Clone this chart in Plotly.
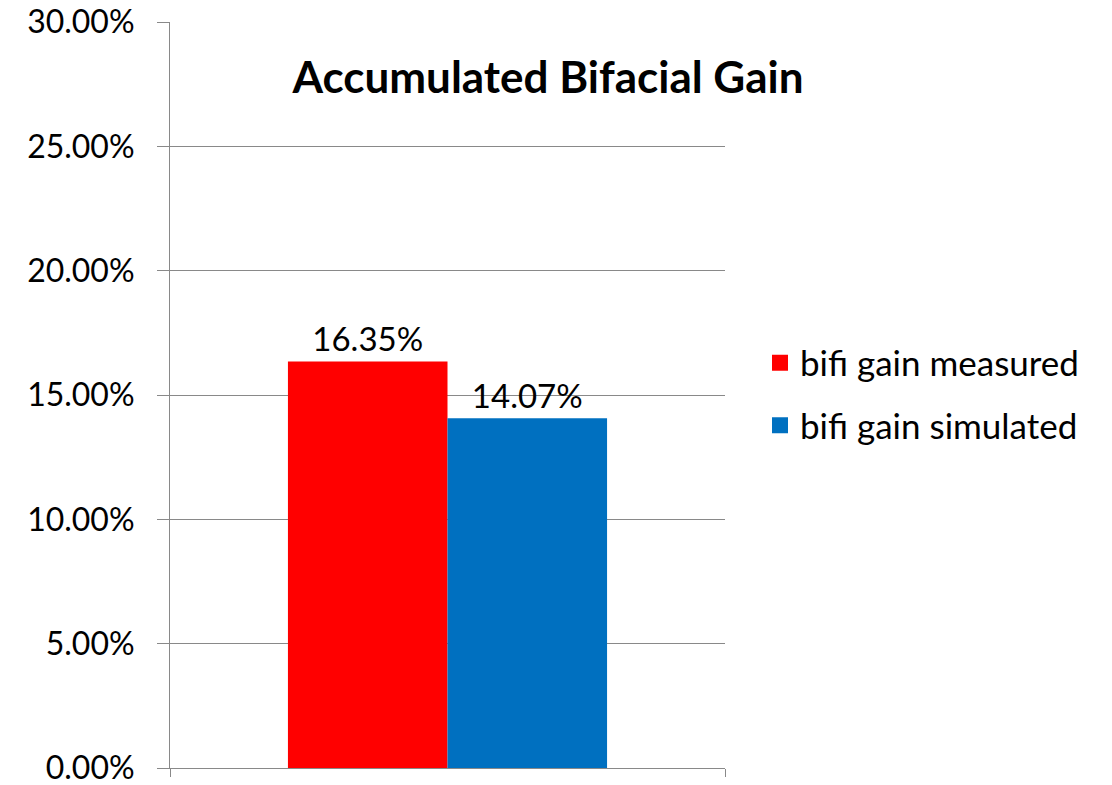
import plotly.graph_objects as go

series_names = ["bifi gain measured", "bifi gain simulated"]
series_values = [0.1635, 0.1407]
series_colors = ["#FF0000", "#0070C0"]
category = [0]

FONT = "Lato"
GRID = "#898989"
W, H = 1104, 777

fig = go.Figure()
for name, val, col in zip(series_names, series_values, series_colors):
    fig.add_trace(go.Bar(
        x=category, y=[val], name=name, marker_color=col, marker_line_width=0,
        text=[f"{val*100:.2f}%"], textposition="outside", cliponaxis=False,
        textfont=dict(family=FONT, size=33, color="#000000"),
        showlegend=False,
    ))
    # legend proxies with bigger square symbols
    fig.add_trace(go.Scatter(
        x=[None], y=[None], mode="markers", name=name, legendgroup=name,
        marker=dict(symbol="square", size=20, color=col),
    ))

fig.update_layout(
    width=W, height=H,
    margin=dict(l=162, r=387, t=14, b=17, autoexpand=False),
    paper_bgcolor="white", plot_bgcolor="white",
    barmode="group", bargap=0.425, bargroupgap=0,
    font=dict(family=FONT, size=33, color="#000000"),
    title=dict(text="<b>Accumulated Bifacial Gain</b>", x=540/W, xanchor="center",
               y=1-70/H, yanchor="middle", font=dict(family=FONT, size=44)),
    legend=dict(x=(760-170)/555, xanchor="left", y=(768-394)/746, yanchor="middle",
                font=dict(family=FONT, size=35), traceorder="grouped",
                tracegroupgap=14, itemwidth=30, bgcolor="rgba(0,0,0,0)"),
)
fig.update_xaxes(range=[-0.5, 0.5], showline=True, linecolor=GRID, linewidth=1,
                 tickvals=[-0.5, 0.5], ticks="outside", ticklen=8, tickcolor=GRID,
                 showticklabels=False, showgrid=False, zeroline=False, automargin=False)
fig.update_yaxes(range=[0, 0.30], dtick=0.05, tickformat=".2%", showgrid=True,
                 gridcolor=GRID, gridwidth=1, showline=True, linecolor=GRID,
                 ticks="outside", ticklen=12, tickcolor=GRID, zeroline=False,
                 tickfont=dict(family=FONT, size=32), ticklabelstandoff=16,
                 ticklabeloverflow="allow", automargin=False)

fig.write_html("out.html")
